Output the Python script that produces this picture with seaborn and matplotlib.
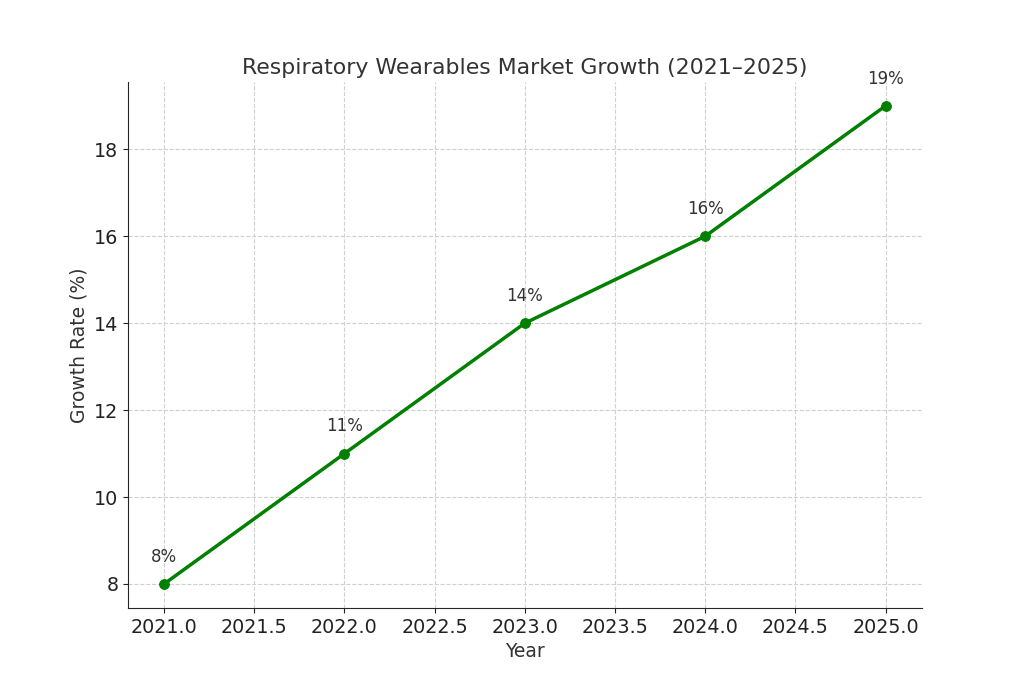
import matplotlib
matplotlib.use("Agg")
import matplotlib.pyplot as plt
import seaborn as sns
import pandas as pd

years = [2021, 2022, 2023, 2024, 2025]
growth = [8, 11, 14, 16, 19]
labels = ["8%", "11%", "14%", "16%", "19%"]

df = pd.DataFrame({"Year": years, "Growth Rate (%)": growth})

sns.set_style("ticks")
plt.rcParams["font.family"] = ["DejaVu Sans"]
text_col = "#333333"

fig, ax = plt.subplots(figsize=(10.24, 6.83), dpi=100)
fig.subplots_adjust(left=0.125, right=0.9, top=0.88, bottom=0.11)

sns.lineplot(data=df, x="Year", y="Growth Rate (%)", ax=ax, color="green",
             linewidth=2.5, marker="o", markersize=7, markeredgecolor="green")

for x, y, t in zip(years, growth, labels):
    ax.annotate(t, (x, y), textcoords="offset points", xytext=(0, 16),
                ha="center", fontsize=12, color=text_col)

ax.grid(True, linestyle="--", color="#d0d0d0", linewidth=0.8)
sns.despine(ax=ax)
ax.set_title("Respiratory Wearables Market Growth (2021\u20132025)", fontsize=15.8,
             color=text_col)
ax.set_xlabel("Year", fontsize=13.5, color=text_col)
ax.set_ylabel("Growth Rate (%)", fontsize=13.5, color=text_col)
ax.tick_params(labelsize=13.8, colors="#222222")
ax.set_xticks([2021, 2021.5, 2022, 2022.5, 2023, 2023.5, 2024, 2024.5, 2025])
ax.set_xticklabels(["2021.0", "2021.5", "2022.0", "2022.5", "2023.0",
                    "2023.5", "2024.0", "2024.5", "2025.0"])
ax.set_ylim(7.45, 19.55)
ax.set_xlim(2020.8, 2025.2)

fig.savefig("out.png", dpi=100)
